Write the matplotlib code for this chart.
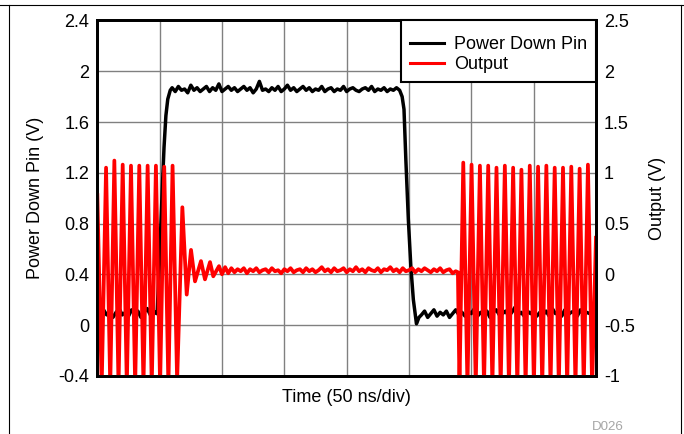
import matplotlib
matplotlib.use("Agg")
import matplotlib.pyplot as plt
import numpy as np
from matplotlib.lines import Line2D

plt.rcParams["font.family"] = ["Liberation Sans", "DejaVu Sans"]
plt.rcParams["axes.unicode_minus"] = False

# --- Power Down Pin (left axis, V), time in divisions (50 ns/div) ---
pd_low1 = [0.10, 0.07, 0.12, 0.08, 0.11, 0.06, 0.10, 0.13, 0.08, 0.10,
           0.07, 0.12, 0.09, 0.11, 0.06, 0.10, 0.13, 0.08, 0.11, 0.09]
pd_rise_t = [0.96, 1.00, 1.04, 1.07, 1.10, 1.13, 1.17]
pd_rise_v = [0.10, 0.55, 1.05, 1.40, 1.65, 1.78, 1.85]
pd_high = [1.87, 1.84, 1.88, 1.85, 1.86, 1.83, 1.89, 1.85, 1.87, 1.84,
           1.86, 1.88, 1.84, 1.87, 1.85, 1.90, 1.84, 1.86, 1.88, 1.85,
           1.87, 1.84, 1.86, 1.88, 1.85, 1.87, 1.83, 1.86, 1.92, 1.85,
           1.86, 1.84, 1.87, 1.85, 1.88, 1.84, 1.86, 1.89, 1.85, 1.87,
           1.84, 1.86, 1.88, 1.85, 1.87, 1.84, 1.86, 1.85, 1.88, 1.84,
           1.86, 1.87, 1.84, 1.86, 1.85, 1.88, 1.84, 1.86, 1.87, 1.85,
           1.84, 1.86, 1.87, 1.85, 1.88, 1.84, 1.86, 1.85, 1.87, 1.84,
           1.86, 1.85, 1.87, 1.85]
pd_fall_t = [4.89, 4.92, 4.95, 4.99, 5.03, 5.07, 5.12, 5.16]
pd_fall_v = [1.80, 1.70, 1.30, 0.83, 0.46, 0.20, 0.01, 0.06]
pd_low2 = [0.08, 0.11, 0.06, 0.09, 0.12, 0.07, 0.10, 0.08, 0.11, 0.06,
           0.09, 0.12, 0.08, 0.10, 0.07, 0.11, 0.09, 0.13, 0.07, 0.10,
           0.08, 0.11, 0.06, 0.10, 0.12, 0.08, 0.09, 0.11, 0.07, 0.10,
           0.14, 0.08, 0.10, 0.07, 0.11, 0.09, 0.12, 0.07, 0.10, 0.08,
           0.11, 0.07, 0.13, 0.09, 0.10, 0.07, 0.12, 0.08, 0.10, 0.11,
           0.07, 0.12, 0.08, 0.10, 0.09, 0.12, 0.08]

# --- Output (right axis, V) ---
out_ring_t = [0.000, 0.070, 0.140, 0.207, 0.273, 0.340, 0.407, 0.473, 0.540, 0.607,
              0.673, 0.740, 0.807, 0.873, 0.940, 1.007, 1.073, 1.140, 1.207, 1.280,
              1.364, 1.434, 1.503, 1.567, 1.663, 1.727, 1.808, 1.860, 1.952]
out_ring_v = [0.78, -1.10, 1.05, -1.10, 1.12, -1.10, 1.08, -1.10, 1.07, -1.10,
              1.07, -1.10, 1.07, -1.10, 1.07, -1.10, 1.06, -1.10, 1.07, -1.05,
              0.66, -0.20, 0.24, -0.07, 0.13, -0.05, 0.12, -0.02, 0.08]
out_flat = [0.00, 0.07, 0.01, 0.06, 0.02, 0.05, 0.03, 0.06, 0.01, 0.05,
            0.03, 0.06, 0.02, 0.04, 0.05, 0.02, 0.06, 0.03, 0.04, 0.01,
            0.05, 0.03, 0.06, 0.02, 0.04, 0.05, 0.02, 0.06, 0.03, 0.05,
            0.02, 0.04, 0.07, 0.03, 0.05, 0.02, 0.06, 0.03, 0.04, 0.06,
            0.02, 0.05, 0.03, 0.07, 0.03, 0.05, 0.02, 0.06, 0.04, 0.03,
            0.06, 0.02, 0.05, 0.04, 0.07, 0.03, 0.05, 0.02, 0.06, 0.03,
            0.04, 0.06, 0.02, 0.05, 0.03, 0.06, 0.04, 0.02, 0.05, 0.03,
            0.06, 0.02, 0.04, 0.05, 0.01, 0.03]
out_burst_t = [5.785, 5.810, 5.871, 5.938, 6.004, 6.071, 6.138, 6.204, 6.271, 6.338,
               6.404, 6.471, 6.538, 6.604, 6.671, 6.738, 6.804, 6.871, 6.938, 7.004,
               7.071, 7.138, 7.204, 7.271, 7.338, 7.404, 7.471, 7.538, 7.604, 7.671,
               7.738, 7.804, 7.871, 7.938, 8.000]
out_burst_v = [0.02, -1.10, 1.10, -1.10, 1.08, -1.10, 1.07, -1.10, 1.07, -1.10,
               1.05, -1.10, 1.07, -1.10, 1.05, -1.10, 1.03, -1.10, 1.07, -1.10,
               1.06, -1.10, 1.07, -1.10, 1.05, -1.10, 1.05, -1.10, 1.06, -1.10,
               1.04, -1.10, 1.08, -1.10, 0.36]

left_ticks = [-0.4, 0, 0.4, 0.8, 1.2, 1.6, 2, 2.4]
left_labels = ["-0.4", "0", "0.4", "0.8", "1.2", "1.6", "2", "2.4"]
right_ticks = [-1, -0.5, 0, 0.5, 1, 1.5, 2, 2.5]
right_labels = ["-1", "-0.5", "0", "0.5", "1", "1.5", "2", "2.5"]
x_divs = list(range(9))

pd_t = np.concatenate([np.linspace(0.0, 0.95, len(pd_low1)), pd_rise_t,
                       np.linspace(1.20, 4.85, len(pd_high)), pd_fall_t,
                       np.linspace(5.20, 8.00, len(pd_low2))])
pd_v = np.concatenate([pd_low1, pd_rise_v, pd_high, pd_fall_v, pd_low2])
out_t = np.concatenate([out_ring_t, np.linspace(2.00, 5.75, len(out_flat)), out_burst_t])
out_v = np.concatenate([out_ring_v, out_flat, out_burst_v])

fig = plt.figure(figsize=(6.84, 4.34), dpi=100)
ax = fig.add_axes([0.1423, 0.1341, 0.7290, 0.8187])
ax2 = ax.twinx()

h1, = ax.plot(pd_t, pd_v, color="black", lw=2.5, label="Power Down Pin")
h2, = ax2.plot(out_t, out_v, color="#ff0000", lw=2.7, label="Output")

ax.set_xlim(0, 8)
ax.set_ylim(-0.4, 2.4)
ax2.set_ylim(-1, 2.5)
ax.set_xticks(x_divs)
ax.set_xticklabels([])
ax.set_yticks(left_ticks)
ax.set_yticklabels(left_labels)
ax2.set_yticks(right_ticks)
ax2.set_yticklabels(right_labels)

ax.grid(True, color="#808080", lw=1.0)
ax.tick_params(axis="both", length=0, pad=5.8, labelsize=13)
ax2.tick_params(axis="y", length=0, pad=5.8, labelsize=13)
for a in (ax, ax2):
    for s in a.spines.values():
        s.set_linewidth(2.0)
        s.set_color("black")

ax.set_ylabel("Power Down Pin (V)", fontsize=13, va="center")
ax.yaxis.set_label_coords(-0.125, 0.5)
ax2.set_ylabel("Output (V)", fontsize=13, va="center")
ax2.yaxis.set_label_coords(1.124, 0.5)
ax.set_xlabel("Time (50 ns/div)", fontsize=13, va="center")
ax.xaxis.set_label_coords(0.5, -0.0597)

# tiny blank title just pushes the entries down inside the box
leg = ax2.legend([h1, h2], ["Power Down Pin", "Output"], loc="upper right",
                 borderaxespad=0, fancybox=False, edgecolor="black", framealpha=1,
                 fontsize=13, handlelength=1.9, handletextpad=0.55,
                 labelspacing=0.15, borderpad=0.5, title=" ", title_fontsize=3)
leg.get_frame().set_linewidth(1.5)
for ln in leg.get_lines():
    ln.set_linewidth(2.2)

# outer page frame
fig.add_artist(Line2D([0, 1], [0.9885, 0.9885], transform=fig.transFigure, color="black", lw=0.8))
fig.add_artist(Line2D([0.0136, 0.0136], [0, 0.9885], transform=fig.transFigure, color="black", lw=0.8))
fig.add_artist(Line2D([0.9952, 0.9952], [0, 0.9885], transform=fig.transFigure, color="black", lw=0.8))

fig.text(607.5 / 684, 1 - 426.7 / 434, "D026", color="#a6a6a6", fontsize=9.6,
         ha="center", va="center")

fig.savefig("out.png", dpi=100)
